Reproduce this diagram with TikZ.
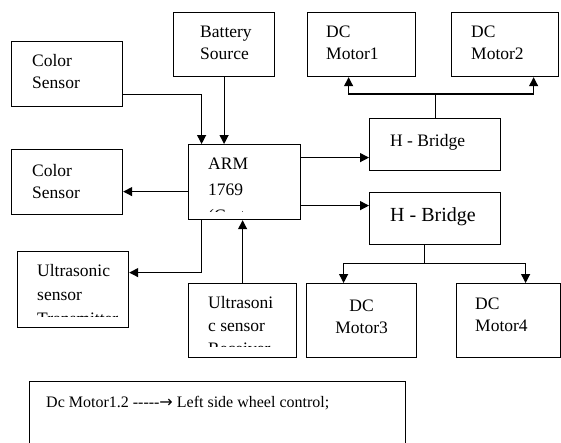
\documentclass[tikz,border=0pt]{standalone}
\usepackage{fontspec}
\setmainfont{Liberation Serif}
\newfontfamily\symfont{DejaVu Sans}
\usetikzlibrary{arrows.meta}

\newcommand{\boxfont}{\fontsize{17.5}{22}\selectfont}
\newcommand{\hy}{-\kern0pt}

\tikzset{
  blk/.style={draw, line width=1.2pt, inner sep=0pt, anchor=north west},
  sz/.style 2 args={minimum width=#1, minimum height=#2},
  clipgap/.store in=\clipgap, clipgap=8pt,
  txt/.style={draw=none, minimum width=0pt, minimum height=0pt, inner sep=0pt, font=\boxfont},
  lbl/.style n args={3}{path picture={
    \clip ([yshift=\clipgap]path picture bounding box.south west) rectangle (path picture bounding box.north east);
    \node[txt, anchor=north west, align=left] at ([xshift=#1, yshift=-#2]path picture bounding box.north west) {#3};}},
  lblc/.style 2 args={path picture={
    \node[txt, anchor=north, align=center] at ([yshift=-#1]path picture bounding box.north) {#2};}},
  wire/.style={line width=1.2pt},
  arr/.style={line width=1.2pt, -{Triangle[width=9pt, length=9pt]}},
}

\begin{document}
\begin{tikzpicture}[x=1pt, y=-1pt]
  \clip (0,0) rectangle (561,442);

  \node[blk, sz={111pt}{65pt}, lbl={20pt}{12pt}{Color\\Sensor}] (cs1) at (11,41) {};
  \node[blk, sz={101pt}{64pt}, lbl={26pt}{13pt}{Battery\\Source}] (bat) at (173,12) {};
  \node[blk, sz={108pt}{64pt}, lbl={18pt}{13pt}{DC\\Motor1}] (m1) at (307,12) {};
  \node[blk, sz={107pt}{64pt}, lbl={19pt}{13pt}{DC\\Motor2}] (m2) at (451,12) {};
  \node[blk, sz={131pt}{52pt}, lbl={20pt}{15pt}{H - Bridge}] (hb1) at (369,118) {};
  \node[blk, sz={112pt}{75pt}, lbl={19pt}{13pt}{ARM\\[4pt]1769\\[4pt](Cortex}] (arm) at (188,144) {};
  \node[blk, sz={111pt}{65pt}, lbl={20pt}{14pt}{Color\\Sensor}] (cs2) at (11,149) {};
  \node[blk, sz={131pt}{52pt}, lbl={20pt}{14pt}{\fontsize{20}{22}\selectfont H - Bridge}] (hb2) at (369,192) {};
  \node[blk, sz={111pt}{76pt}, clipgap=11pt, lbl={19pt}{12pt}{Ultrasonic\\[2pt]sensor\\[2pt]Transmitter}] (ust) at (17,251) {};
  \node[blk, sz={108pt}{74pt}, clipgap=11pt, lbl={19pt}{12pt}{Ultrasoni\\[1pt]c sensor\\[1pt]Receiver}] (usr) at (188,283) {};
  \node[blk, sz={110pt}{74pt}, lblc={16pt}{DC\\Motor3}] (m3) at (306,283) {};
  \node[blk, sz={104pt}{74pt}, lbl={18pt}{14pt}{DC\\Motor4}] (m4) at (456,283) {};
  \node[blk, sz={376pt}{70pt}, lbl={16pt}{14pt}{\fontsize{16}{22}\selectfont Dc Motor1.2 \hy\hy\hy\hy-{\symfont →} Left side wheel control;}] (note) at (29,381) {};

  \draw[arr] ([yshift=-20.5pt]cs1.east) -| ([xshift=-43pt]arm.north);
  \draw[arr] (bat.south) -- (bat.south |- arm.north);
  \draw[arr] ([yshift=-9.5pt]arm.west) -- ([yshift=-9.5pt]arm.west -| cs2.east);
  \draw[arr] ([yshift=24.5pt]arm.east) -- ([yshift=24.5pt]arm.east -| hb1.west);
  \draw[arr] ([yshift=-23.5pt]arm.east) -- ([yshift=-23.5pt]arm.east -| hb2.west);
  \draw[arr] ([xshift=-43pt]arm.south) |- ([yshift=17pt]ust.east);
  \draw[arr] (usr.north) -- (usr.north |- arm.south);

  \coordinate (top) at ([yshift=24pt]hb1.north);
  \draw[wire] (hb1.north) -- (top);
  \draw[arr] (top) -| ([xshift=-13pt]m1.south);
  \draw[arr] (top) -| ([xshift=28.5pt]m2.south);

  \coordinate (bot) at ([xshift=-10.5pt, yshift=-18pt]hb2.south);
  \draw[wire] ([xshift=-10.5pt]hb2.south) -- (bot);
  \draw[arr] (bot) -| ([xshift=-18pt]m3.north);
  \draw[arr] (bot) -| ([xshift=17pt]m4.north);
\end{tikzpicture}
\end{document}
